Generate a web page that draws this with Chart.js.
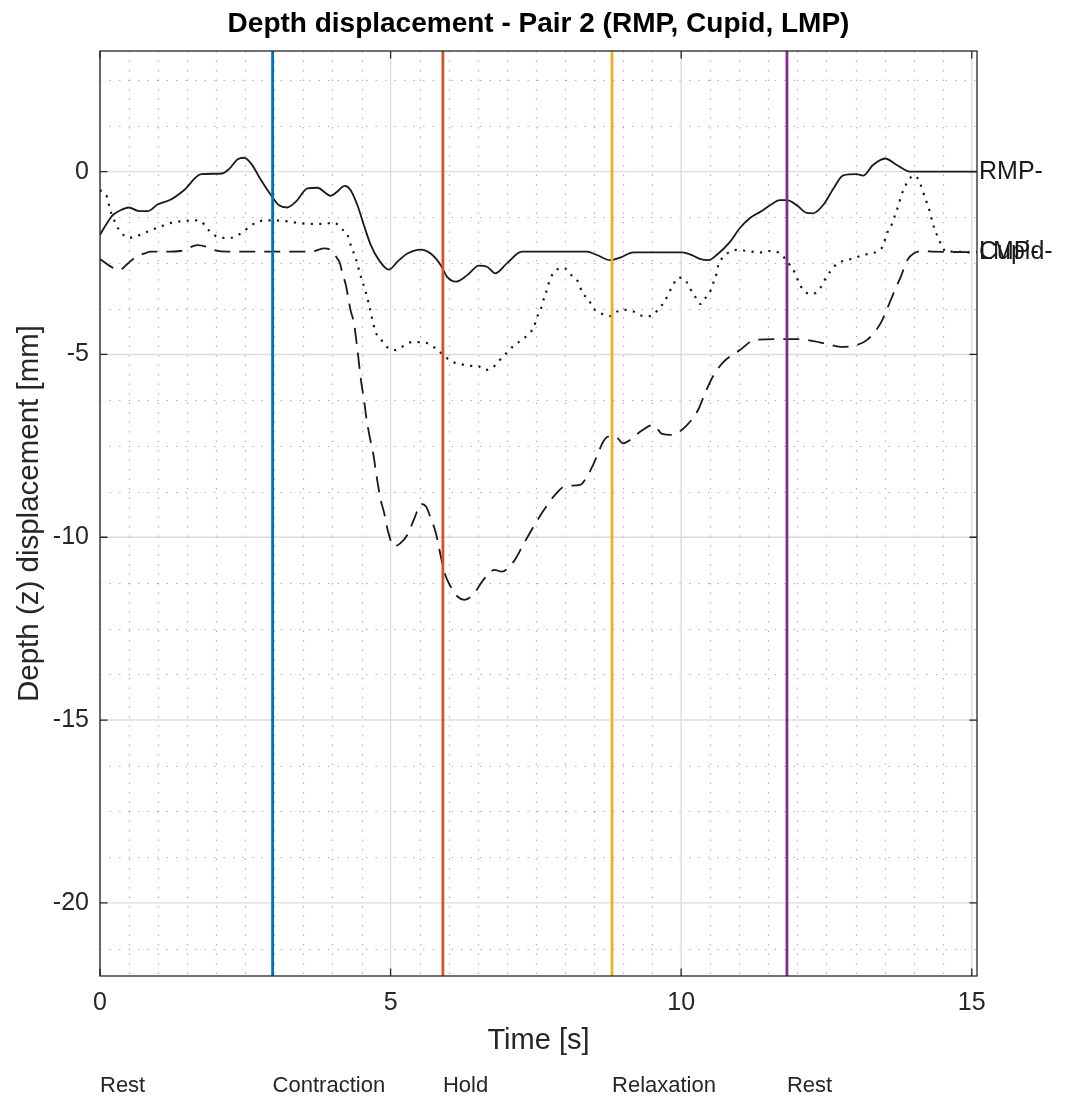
<!DOCTYPE html>
<html>
<head>
<meta charset="utf-8">
<title>Depth displacement - Pair 2</title>
<script src="https://cdn.jsdelivr.net/npm/chart.js@4.4.1/dist/chart.umd.min.js"></script>
<style>
  html, body { margin: 0; padding: 0; background: #ffffff; }
  #wrap { width: 1071px; height: 1101px; }
</style>
</head>
<body>
<div id="wrap"><canvas id="depthChart" width="1071" height="1101"></canvas></div>
<script>
// ---- data: time [s] and depth (z) displacement [mm] per landmark ----
const seriesNames = ['RMP', 'Cupid', 'LMP'];

const rmpTime = [0.00, 0.10, 0.22, 0.36, 0.50, 0.65, 0.82, 0.99, 1.22, 1.45, 1.74, 2.10, 2.22, 2.37, 2.48, 2.60, 2.77, 2.94, 3.08, 3.22, 3.37, 3.57, 3.74, 3.97, 4.08, 4.21, 4.31, 4.43, 4.54, 4.66, 4.80, 4.97, 5.12, 5.29, 5.52, 5.69, 5.86, 5.97, 6.12, 6.32, 6.52, 6.66, 6.80, 7.00, 7.26, 8.38, 8.55, 8.78, 8.95, 9.18, 10.02, 10.15, 10.33, 10.47, 10.61, 10.84, 11.01, 11.19, 11.36, 11.53, 11.70, 11.82, 11.99, 12.16, 12.27, 12.45, 12.62, 12.79, 13.02, 13.13, 13.30, 13.51, 13.71, 13.94, 15.09];
const rmpDepth = [-1.73, -1.46, -1.19, -1.05, -0.98, -1.07, -1.08, -0.90, -0.76, -0.50, -0.07, -0.05, 0.07, 0.34, 0.38, 0.22, -0.23, -0.64, -0.92, -0.98, -0.82, -0.46, -0.44, -0.66, -0.55, -0.39, -0.50, -0.92, -1.46, -2.01, -2.42, -2.68, -2.46, -2.24, -2.13, -2.24, -2.55, -2.87, -3.01, -2.83, -2.57, -2.60, -2.78, -2.51, -2.19, -2.19, -2.28, -2.42, -2.35, -2.21, -2.21, -2.26, -2.39, -2.42, -2.28, -1.92, -1.54, -1.26, -1.10, -0.92, -0.78, -0.78, -0.92, -1.13, -1.14, -0.90, -0.46, -0.10, -0.07, -0.11, 0.18, 0.36, 0.18, 0.00, 0.00];

const cupidTime = [0.00, 0.13, 0.16, 0.27, 0.36, 0.50, 0.65, 0.79, 0.93, 1.08, 1.22, 1.45, 1.62, 1.74, 1.82, 1.96, 2.10, 2.25, 2.39, 2.54, 2.71, 2.94, 3.17, 3.51, 3.85, 4.03, 4.14, 4.26, 4.31, 4.40, 4.48, 4.57, 4.63, 4.74, 4.83, 4.94, 5.09, 5.23, 5.37, 5.52, 5.66, 5.80, 6.06, 6.20, 6.35, 6.49, 6.62, 6.75, 6.85, 6.99, 7.12, 7.26, 7.38, 7.47, 7.51, 7.58, 7.62, 7.67, 7.75, 7.85, 7.99, 8.12, 8.24, 8.29, 8.41, 8.49, 8.64, 8.78, 8.92, 9.05, 9.19, 9.32, 9.47, 9.60, 9.71, 9.85, 9.95, 10.07, 10.15, 10.24, 10.33, 10.41, 10.51, 10.56, 10.61, 10.64, 10.73, 10.84, 10.98, 11.13, 11.39, 11.53, 11.67, 11.87, 11.96, 12.02, 12.10, 12.25, 12.39, 12.47, 12.56, 12.69, 12.85, 12.99, 13.13, 13.28, 13.39, 13.48, 13.53, 13.62, 13.69, 13.74, 13.79, 13.88, 13.96, 14.02, 14.11, 14.19, 14.27, 14.33, 14.39, 14.48, 14.56, 14.73, 14.97, 15.09];
const cupidDepth = [-0.50, -0.73, -0.96, -1.42, -1.66, -1.81, -1.75, -1.66, -1.57, -1.48, -1.40, -1.35, -1.33, -1.35, -1.51, -1.73, -1.81, -1.81, -1.72, -1.55, -1.37, -1.33, -1.35, -1.42, -1.43, -1.39, -1.55, -1.73, -1.99, -2.37, -2.83, -3.28, -3.65, -4.38, -4.58, -4.80, -4.88, -4.76, -4.66, -4.66, -4.71, -4.87, -5.20, -5.26, -5.31, -5.31, -5.42, -5.37, -5.20, -4.97, -4.76, -4.60, -4.43, -4.24, -4.01, -3.78, -3.56, -3.33, -2.92, -2.69, -2.64, -2.85, -3.05, -3.28, -3.51, -3.74, -3.89, -3.95, -3.81, -3.78, -3.83, -3.94, -3.95, -3.78, -3.56, -3.13, -2.90, -2.96, -3.19, -3.42, -3.62, -3.47, -3.24, -3.01, -2.78, -2.55, -2.33, -2.19, -2.14, -2.17, -2.21, -2.17, -2.21, -2.55, -2.78, -3.01, -3.24, -3.35, -3.19, -2.96, -2.74, -2.51, -2.42, -2.36, -2.28, -2.23, -2.17, -2.01, -1.73, -1.46, -1.14, -0.92, -0.64, -0.32, -0.14, -0.11, -0.32, -0.69, -1.05, -1.42, -1.69, -2.01, -2.19, -2.19, -2.21, -2.20];

const lmpTime = [0.00, 0.16, 0.33, 0.48, 0.62, 0.76, 0.88, 1.10, 1.39, 1.68, 1.82, 1.96, 2.19, 3.63, 3.85, 3.97, 4.08, 4.13, 4.17, 4.23, 4.31, 4.37, 4.43, 4.49, 4.55, 4.58, 4.64, 4.70, 4.76, 4.83, 4.89, 4.95, 5.06, 5.17, 5.29, 5.41, 5.53, 5.61, 5.68, 5.78, 5.84, 5.93, 6.03, 6.15, 6.27, 6.42, 6.60, 6.79, 6.91, 7.12, 7.28, 7.46, 7.64, 7.83, 8.01, 8.26, 8.38, 8.47, 8.57, 8.66, 8.75, 8.87, 9.00, 9.12, 9.30, 9.52, 9.67, 9.83, 10.10, 10.29, 10.41, 10.56, 10.73, 11.01, 11.27, 11.88, 12.10, 12.51, 12.74, 12.97, 13.20, 13.43, 13.57, 13.69, 13.78, 13.89, 14.00, 14.17, 14.34, 15.09];
const lmpDepth = [-2.39, -2.57, -2.69, -2.51, -2.33, -2.24, -2.19, -2.19, -2.17, -2.01, -2.05, -2.14, -2.19, -2.19, -2.10, -2.14, -2.37, -2.51, -2.78, -3.10, -3.78, -4.15, -4.88, -5.70, -6.33, -6.70, -7.25, -7.70, -8.34, -8.98, -9.34, -9.80, -10.25, -10.16, -9.93, -9.48, -9.09, -9.16, -9.43, -9.89, -10.34, -10.98, -11.34, -11.62, -11.71, -11.57, -11.16, -10.89, -10.94, -10.66, -10.21, -9.71, -9.25, -8.84, -8.60, -8.57, -8.34, -8.07, -7.70, -7.38, -7.25, -7.25, -7.43, -7.34, -7.11, -6.93, -7.17, -7.20, -6.93, -6.52, -6.06, -5.56, -5.20, -4.88, -4.60, -4.58, -4.59, -4.71, -4.79, -4.76, -4.60, -4.15, -3.65, -3.19, -2.87, -2.42, -2.24, -2.17, -2.19, -2.20];

// phase boundaries [s] and the phase that starts at each of them
const phaseTimes = [2.97, 5.90, 8.81, 11.82];
const phaseNames = ['Rest', 'Contraction', 'Hold', 'Relaxation', 'Rest'];

// axis ticks and limits
const xTicks = [0, 5, 10, 15];
const yTicks = [-20, -15, -10, -5, 0];
const xLimits = [0, 15.09];
const yLimits = [-22, 3.3];

// ---- styling ----
const FONT = "'Liberation Sans', Arial, Helvetica, sans-serif";
const AXIS_COLOR = '#262626';
const phaseColors = ['#0072BD', '#D95319', '#EDB120', '#7E2F8E'];
const xMinorStep = 0.5;
const yMinorStep = 1.25;

const toPoints = (t, d) => t.map((v, i) => ({ x: v, y: d[i] }));
const seriesData = [toPoints(rmpTime, rmpDepth), toPoints(cupidTime, cupidDepth), toPoints(lmpTime, lmpDepth)];

// grid, box, phase markers and text annotations in the style of a MATLAB axes
const axesDecor = {
  id: 'axesDecor',
  beforeDatasetsDraw(chart) {
    const { ctx, chartArea: a, scales: { x, y } } = chart;
    const isMajor = (v, list) => list.some(m => Math.abs(m - v) < 1e-6);
    ctx.save();
    // minor grid (dotted)
    ctx.strokeStyle = 'rgba(38,38,38,0.34)';
    ctx.lineWidth = 1.2;
    ctx.setLineDash([1.5, 8]);
    for (let k = 1; k * xMinorStep < x.max; k++) {
      const v = k * xMinorStep;
      if (isMajor(v, xTicks)) continue;
      const px = Math.round(x.getPixelForValue(v)) + 0.5;
      ctx.beginPath(); ctx.moveTo(px, a.top); ctx.lineTo(px, a.bottom); ctx.stroke();
    }
    for (let k = Math.ceil(y.min / yMinorStep); k * yMinorStep < y.max; k++) {
      const v = k * yMinorStep;
      if (isMajor(v, yTicks)) continue;
      const py = Math.round(y.getPixelForValue(v)) + 0.5;
      ctx.beginPath(); ctx.moveTo(a.left, py); ctx.lineTo(a.right, py); ctx.stroke();
    }
    // major grid (solid, light)
    ctx.setLineDash([]);
    ctx.strokeStyle = '#dcdcdc';
    ctx.lineWidth = 1.4;
    xTicks.forEach(v => {
      const px = x.getPixelForValue(v);
      ctx.beginPath(); ctx.moveTo(px, a.top); ctx.lineTo(px, a.bottom); ctx.stroke();
    });
    yTicks.forEach(v => {
      const py = y.getPixelForValue(v);
      ctx.beginPath(); ctx.moveTo(a.left, py); ctx.lineTo(a.right, py); ctx.stroke();
    });
    ctx.restore();
  },
  afterDatasetsDraw(chart) {
    const { ctx, chartArea: a, scales: { x, y } } = chart;
    ctx.save();
    // phase boundary markers
    ctx.lineWidth = 2.8;
    phaseTimes.forEach((t, i) => {
      const px = x.getPixelForValue(t);
      ctx.strokeStyle = phaseColors[i];
      ctx.beginPath(); ctx.moveTo(px, a.top); ctx.lineTo(px, a.bottom); ctx.stroke();
    });
    // axes box
    ctx.strokeStyle = AXIS_COLOR;
    ctx.lineWidth = 1.3;
    ctx.strokeRect(a.left, a.top, a.right - a.left, a.bottom - a.top);
    // inward tick marks on all four sides
    const tl = 7.5;
    ctx.beginPath();
    xTicks.forEach(v => {
      const px = x.getPixelForValue(v);
      ctx.moveTo(px, a.bottom); ctx.lineTo(px, a.bottom - tl);
      ctx.moveTo(px, a.top); ctx.lineTo(px, a.top + tl);
    });
    yTicks.forEach(v => {
      const py = y.getPixelForValue(v);
      ctx.moveTo(a.left, py); ctx.lineTo(a.left + tl, py);
      ctx.moveTo(a.right, py); ctx.lineTo(a.right - tl, py);
    });
    ctx.stroke();
    // series name at the end of each trace
    ctx.fillStyle = '#1a1a1a';
    ctx.font = `25px ${FONT}`;
    ctx.textAlign = 'left';
    ctx.textBaseline = 'middle';
    const ends = [rmpDepth, cupidDepth, lmpDepth];
    [0, 2, 1].forEach(i => {
      const d = ends[i];
      ctx.fillText(seriesNames[i] + '-', a.right + 2, y.getPixelForValue(d[d.length - 1]));
    });
    // phase names under the time axis
    ctx.fillStyle = AXIS_COLOR;
    ctx.font = `22px ${FONT}`;
    const starts = [0].concat(phaseTimes);
    phaseNames.forEach((name, i) => {
      ctx.fillText(name, x.getPixelForValue(starts[i]), 1086);
    });
    ctx.restore();
  }
};

const lineStyles = [
  { borderDash: [], borderWidth: 1.8 },
  { borderDash: [2.2, 6.3], borderWidth: 2.2 },
  { borderDash: [16, 9], borderWidth: 1.8 }
];

new Chart(document.getElementById('depthChart'), {
  type: 'line',
  data: {
    datasets: seriesNames.map((name, i) => ({
      label: name,
      data: seriesData[i],
      borderColor: '#1a1a1a',
      borderWidth: lineStyles[i].borderWidth,
      borderDash: lineStyles[i].borderDash,
      pointRadius: 0,
      fill: false,
      cubicInterpolationMode: 'monotone'
    }))
  },
  options: {
    responsive: false,
    animation: false,
    devicePixelRatio: 1,
    layout: { padding: { top: 0, right: 94, bottom: 0, left: 0 } },
    plugins: {
      legend: { display: false },
      tooltip: { enabled: false },
      title: {
        display: true,
        fullSize: false,
        text: 'Depth displacement - Pair 2 (RMP, Cupid, LMP)',
        color: '#000000',
        font: { family: FONT, size: 28, weight: 'bold', lineHeight: 1.2 },
        padding: { top: 7.4, bottom: 10 }
      }
    },
    scales: {
      x: {
        type: 'linear',
        min: xLimits[0],
        max: xLimits[1],
        afterBuildTicks: s => { s.ticks = xTicks.map(v => ({ value: v })); },
        afterFit: s => { s.height = 125; },
        grid: { display: false, drawTicks: false },
        border: { display: false },
        ticks: {
          color: AXIS_COLOR,
          padding: 12,
          maxRotation: 0,
          font: { family: FONT, size: 25 },
          callback: v => String(v)
        },
        title: {
          display: true,
          text: 'Time [s]',
          color: AXIS_COLOR,
          font: { family: FONT, size: 29, lineHeight: 1.2 },
          padding: { top: 0, bottom: 42.5 }
        }
      },
      y: {
        type: 'linear',
        min: yLimits[0],
        max: yLimits[1],
        afterBuildTicks: s => { s.ticks = yTicks.map(v => ({ value: v })); },
        afterFit: s => { s.width = 100; },
        grid: { display: false, drawTicks: false },
        border: { display: false },
        ticks: {
          color: AXIS_COLOR,
          padding: 11,
          font: { family: FONT, size: 25 },
          callback: v => String(v)
        },
        title: {
          display: true,
          text: 'Depth (z) displacement [mm]',
          color: AXIS_COLOR,
          font: { family: FONT, size: 29.5, lineHeight: 1.2 },
          padding: { top: 12.4, bottom: 0 }
        }
      }
    }
  },
  plugins: [axesDecor]
});
</script>
</body>
</html>
